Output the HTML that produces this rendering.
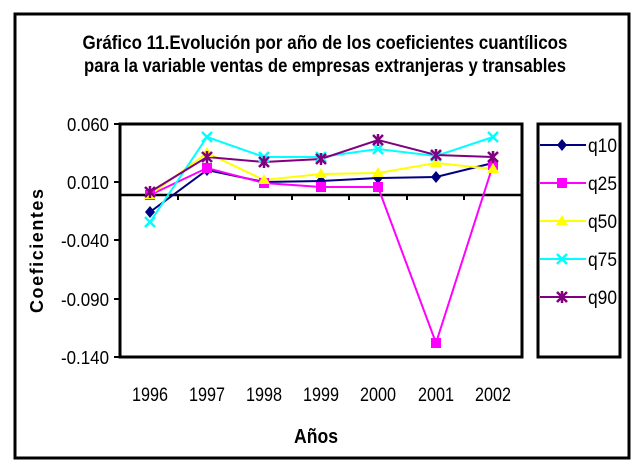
<!DOCTYPE html>
<html><head><meta charset="utf-8"><style>
html,body{margin:0;padding:0;background:#fff;}
svg{display:block;font-family:"Liberation Sans",Arial,sans-serif;}
</style></head><body>
<svg width="638" height="467" viewBox="0 0 638 467" xmlns="http://www.w3.org/2000/svg">
<rect x="15" y="14" width="614" height="444" fill="none" stroke="#000" stroke-width="3"/>
<text x="325" y="49" text-anchor="middle" font-size="19" font-weight="bold" textLength="485" lengthAdjust="spacingAndGlyphs">Gráfico 11.Evolución por año de los coeficientes cuantílicos</text>
<text x="325" y="72" text-anchor="middle" font-size="19" font-weight="bold" textLength="482" lengthAdjust="spacingAndGlyphs">para la variable ventas de empresas extranjeras y transables</text>
<rect x="120" y="124" width="402" height="233" fill="none" stroke="#000" stroke-width="3"/>
<g stroke="#000" stroke-width="2">
<line x1="114" y1="124" x2="120" y2="124"/><line x1="114" y1="182" x2="120" y2="182"/>
<line x1="114" y1="240" x2="120" y2="240"/><line x1="114" y1="299" x2="120" y2="299"/>
<line x1="114" y1="357" x2="120" y2="357"/>
</g>
<line x1="120" y1="195" x2="522" y2="195" stroke="#000" stroke-width="2.5"/>
<g stroke="#000" stroke-width="2">
<line x1="178" y1="195" x2="178" y2="200"/><line x1="235" y1="195" x2="235" y2="200"/>
<line x1="292" y1="195" x2="292" y2="200"/><line x1="349" y1="195" x2="349" y2="200"/>
<line x1="407" y1="195" x2="407" y2="200"/><line x1="464" y1="195" x2="464" y2="200"/>
</g>
<g font-size="18" text-anchor="end" lengthAdjust="spacingAndGlyphs">
<text x="109" y="131" textLength="42" lengthAdjust="spacingAndGlyphs">0.060</text>
<text x="109" y="189" textLength="42" lengthAdjust="spacingAndGlyphs">0.010</text>
<text x="109" y="247" textLength="48" lengthAdjust="spacingAndGlyphs">-0.040</text>
<text x="109" y="306" textLength="48" lengthAdjust="spacingAndGlyphs">-0.090</text>
<text x="109" y="364" textLength="48" lengthAdjust="spacingAndGlyphs">-0.140</text>
</g>
<g font-size="19" text-anchor="middle">
<text x="150" y="401" textLength="36" lengthAdjust="spacingAndGlyphs">1996</text>
<text x="207" y="401" textLength="36" lengthAdjust="spacingAndGlyphs">1997</text>
<text x="264" y="401" textLength="36" lengthAdjust="spacingAndGlyphs">1998</text>
<text x="321" y="401" textLength="36" lengthAdjust="spacingAndGlyphs">1999</text>
<text x="378" y="401" textLength="36" lengthAdjust="spacingAndGlyphs">2000</text>
<text x="436" y="401" textLength="36" lengthAdjust="spacingAndGlyphs">2001</text>
<text x="493" y="401" textLength="36" lengthAdjust="spacingAndGlyphs">2002</text>
</g>
<text x="316" y="443" text-anchor="middle" font-size="20" font-weight="bold" textLength="44" lengthAdjust="spacingAndGlyphs">Años</text>
<text transform="translate(43,251) rotate(-90)" text-anchor="middle" font-size="18" font-weight="bold" textLength="124" lengthAdjust="spacing">Coeficientes</text>
<polyline fill="none" stroke="#000080" stroke-width="2" points="150,212 207,170 264,182 321,181 378,178 436,177 493,163"/>
<polyline fill="none" stroke="#ff00ff" stroke-width="2" points="150,195 207,168 264,183 321,187 378,187 436,343 493,165"/>
<polyline fill="none" stroke="#ffff00" stroke-width="2" points="150,195 207,153 264,180 321,174 378,173 436,163 493,169"/>
<polyline fill="none" stroke="#00ffff" stroke-width="2" points="150,222 207,137 264,157 321,157 378,149 436,156 493,137"/>
<polyline fill="none" stroke="#800080" stroke-width="2" points="150,192 207,157 264,162 321,159 378,140 436,155 493,157"/>
<g fill="#000080">
<path d="M150,206 l5,6 l-5,6 l-5,-6z"/><path d="M207,164 l5,6 l-5,6 l-5,-6z"/><path d="M264,176 l5,6 l-5,6 l-5,-6z"/><path d="M321,175 l5,6 l-5,6 l-5,-6z"/><path d="M378,172 l5,6 l-5,6 l-5,-6z"/><path d="M436,171 l5,6 l-5,6 l-5,-6z"/><path d="M493,157 l5,6 l-5,6 l-5,-6z"/>
</g>
<g fill="#ff00ff">
<rect x="145" y="190" width="10" height="10"/><rect x="202" y="163" width="10" height="10"/><rect x="259" y="178" width="10" height="10"/><rect x="316" y="182" width="10" height="10"/><rect x="373" y="182" width="10" height="10"/><rect x="431" y="338" width="10" height="10"/><rect x="488" y="160" width="10" height="10"/>
</g>
<g fill="#ffff00">
<path d="M150,189 l6,10 h-12z"/><path d="M207,147 l6,10 h-12z"/><path d="M264,174 l6,10 h-12z"/><path d="M321,168 l6,10 h-12z"/><path d="M378,167 l6,10 h-12z"/><path d="M436,157 l6,10 h-12z"/><path d="M493,163 l6,10 h-12z"/>
</g>
<g stroke="#00ffff" stroke-width="2.5">
<path d="M145,217 l10,10 M155,217 l-10,10"/><path d="M202,132 l10,10 M212,132 l-10,10"/><path d="M259,152 l10,10 M269,152 l-10,10"/><path d="M316,152 l10,10 M326,152 l-10,10"/><path d="M373,144 l10,10 M383,144 l-10,10"/><path d="M431,151 l10,10 M441,151 l-10,10"/><path d="M488,132 l10,10 M498,132 l-10,10"/>
</g>
<g stroke="#800080" stroke-width="2.5">
<path d="M145,187 l10,10 M155,187 l-10,10 M150,186 v12"/><path d="M202,152 l10,10 M212,152 l-10,10 M207,151 v12"/><path d="M259,157 l10,10 M269,157 l-10,10 M264,156 v12"/><path d="M316,154 l10,10 M326,154 l-10,10 M321,153 v12"/><path d="M373,135 l10,10 M383,135 l-10,10 M378,134 v12"/><path d="M431,150 l10,10 M441,150 l-10,10 M436,149 v12"/><path d="M488,152 l10,10 M498,152 l-10,10 M493,151 v12"/>
</g>
<rect x="538" y="124" width="82" height="233" fill="#fff" stroke="#000" stroke-width="3"/>
<g stroke-width="2">
<line x1="540" y1="145" x2="586" y2="145" stroke="#000080"/>
<line x1="540" y1="183" x2="586" y2="183" stroke="#ff00ff"/>
<line x1="540" y1="221" x2="586" y2="221" stroke="#ffff00"/>
<line x1="540" y1="259" x2="586" y2="259" stroke="#00ffff"/>
<line x1="540" y1="297" x2="586" y2="297" stroke="#800080"/>
</g>
<path d="M562,139 l5,6 l-5,6 l-5,-6z" fill="#000080"/>
<rect x="557" y="178" width="10" height="10" fill="#ff00ff"/>
<path d="M562,215 l6,10 h-12z" fill="#ffff00"/>
<path d="M557,254 l10,10 M567,254 l-10,10" stroke="#00ffff" stroke-width="2.5"/>
<path d="M557,292 l10,10 M567,292 l-10,10 M562,291 v12" stroke="#800080" stroke-width="2.5"/>
<g font-size="19">
<text x="588" y="152" textLength="29" lengthAdjust="spacingAndGlyphs">q10</text>
<text x="588" y="190" textLength="29" lengthAdjust="spacingAndGlyphs">q25</text>
<text x="588" y="228" textLength="29" lengthAdjust="spacingAndGlyphs">q50</text>
<text x="588" y="266" textLength="29" lengthAdjust="spacingAndGlyphs">q75</text>
<text x="588" y="304" textLength="29" lengthAdjust="spacingAndGlyphs">q90</text>
</g>
</svg>
</body></html>
